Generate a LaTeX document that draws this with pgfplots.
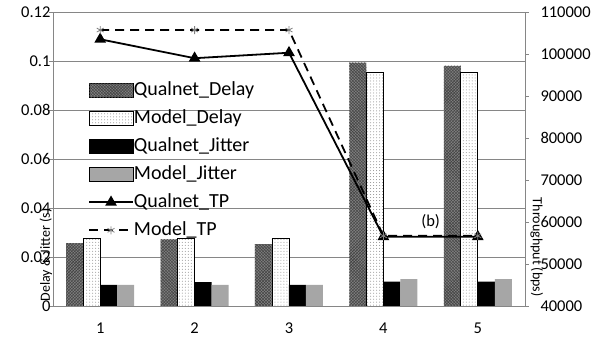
\documentclass[border=0pt]{standalone}
\usepackage{pgfplots}
\pgfplotsset{compat=1.18}
\usepackage{fontspec}
\setmainfont{Carlito}
\usetikzlibrary{patterns}
\definecolor{gridgray}{RGB}{134,134,134}
\definecolor{mjit}{RGB}{166,166,166}
\pgfplotsset{
  barlegend/.style={legend image code/.code={\draw[##1] (0bp,-7bp) rectangle (44bp,7bp);}},
  linelegend/.style={legend image code/.code={\draw[mark repeat=2,mark phase=2,##1] plot coordinates {(0bp,0bp) (22bp,0bp) (44bp,0bp)};}},
}
\begin{document}
\begin{tikzpicture}
\pgfplotsset{
  every axis/.append style={
    scale only axis, width=472bp, height=294bp,
    xmin=0.5, xmax=5.5,
    tick align=outside, major tick length=4bp,
    axis line style={gridgray, line width=0.75bp},
    tick style={gridgray, line width=0.75bp},
    tick label style={font=\fontsize{16.5bp}{20bp}\selectfont},
    /pgf/number format/assume math mode=true,
    scaled y ticks=false,
  },
}
\begin{axis}[
  axis x line*=bottom, axis y line*=left,
  ymin=0, ymax=0.12,
  ytick={0,0.02,0.04,0.06,0.08,0.1,0.12},
  yticklabel style={/pgf/number format/fixed, xshift=5bp},
  xticklabel style={yshift=-9bp},
  ymajorgrids, major grid style={gridgray, line width=0.75bp},
  xtick={1,2,3,4,5}, xtick style={draw=none},
  extra x ticks={0.5,1.5,2.5,3.5,4.5,5.5}, extra x tick labels={},
  extra x tick style={grid=none, major tick length=5bp, tick style={draw=gridgray}},
  ybar=0pt, bar width=17bp,
  ylabel={Delay \& Jitter (s)},
  ylabel style={at={(rel axis cs:-0.015,0.173)}, anchor=center, font=\fontsize{14bp}{16bp}\selectfont},
]
\addplot[draw=none, fill=black!50, postaction={pattern=crosshatch, pattern color=black!75}] coordinates {(1,0.0257)(2,0.0272)(3,0.0253)(4,0.0993)(5,0.0980)};
\addplot[draw=black, line width=0.75bp, fill=white, postaction={pattern=dots, pattern color=black!45}] coordinates {(1,0.0278)(2,0.0278)(3,0.0278)(4,0.0952)(5,0.0952)};
\addplot[draw=none, fill=black] coordinates {(1,0.0086)(2,0.0097)(3,0.0086)(4,0.0099)(5,0.0099)};
\addplot[draw=none, fill=mjit] coordinates {(1,0.0086)(2,0.0086)(3,0.0086)(4,0.0110)(5,0.0110)};
\end{axis}
\begin{axis}[
  axis x line=none, axis y line*=right,
  ymin=40000, ymax=110000,
  ytick={40000,50000,60000,70000,80000,90000,100000,110000},
  yticklabel style={/pgf/number format/fixed, /pgf/number format/precision=0, /pgf/number format/1000 sep={}, xshift=8bp},
  ylabel={Throughput (bps)},
  ylabel style={at={(rel axis cs:1.025,0.2)}, anchor=center, rotate=180, font=\fontsize{14bp}{16bp}\selectfont},
  legend style={at={(rel axis cs:0.074,0.765)}, anchor=north west, draw=none, fill=none,
    font=\fontsize{20bp}{24bp}\selectfont, row sep=10bp, inner sep=0pt,
    nodes={inner sep=0pt, text height=14bp, text depth=4bp}},
  legend cell align=left,
]
\addlegendimage{barlegend, draw=none, fill=black!50, postaction={pattern=crosshatch, pattern color=black!75}}
\addlegendentry{Qualnet\_Delay}
\addlegendimage{barlegend, draw=black, line width=0.75bp, fill=white, postaction={pattern=dots, pattern color=black!45}}
\addlegendentry{Model\_Delay}
\addlegendimage{barlegend, draw=none, fill=black}
\addlegendentry{Qualnet\_Jitter}
\addlegendimage{barlegend, draw=none, fill=mjit}
\addlegendentry{Model\_Jitter}
\addplot[linelegend, black, line width=1.8bp, mark=triangle*, mark size=5bp, mark options={solid}] coordinates {(1,103500)(2,99000)(3,100300)(4,56500)(5,56500)};
\addlegendentry{Qualnet\_TP}
\addplot[linelegend, black, line width=1.8bp, dash pattern=on 9bp off 6bp, mark=asterisk, mark size=4bp, mark options={solid, gray, line width=0.8bp}] coordinates {(1,105700)(2,105700)(3,105700)(4,56700)(5,56700)};
\addlegendentry{Model\_TP}
\node[font=\fontsize{16.5bp}{20bp}\selectfont] at (axis cs:4.5,60000) {(b)};
\end{axis}
\pgfresetboundingbox
\path[use as bounding box] (-53bp,-35bp) rectangle (540bp,306bp);
\end{tikzpicture}
\end{document}
